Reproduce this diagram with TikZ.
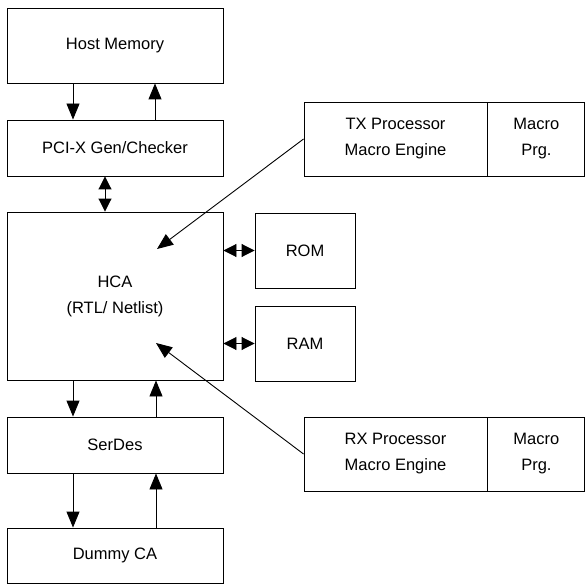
\documentclass[tikz,border=0pt]{standalone}
\usepackage{fontspec}
\setmainfont{Liberation Sans}
\usepackage{tikz}
\usetikzlibrary{arrows.meta}
\usetikzlibrary{positioning, calc}

\tikzset{
  blk/.style={draw, line width=0.9pt, rectangle, inner sep=0pt, align=center,
    font=\fontsize{16.5}{26}\selectfont},
  flow/.style={line width=0.9pt, -{Triangle[length=16pt,width=13pt]}},
  both/.style={line width=0.9pt, {Triangle[length=13pt,width=13pt]}-{Triangle[length=13pt,width=13pt]}}
}

\begin{document}
\begin{tikzpicture}[x=1pt,y=-1pt]
            \useasboundingbox (0,0) rectangle (585,585);
            % host side
            \node [blk, minimum width=216, minimum height=75] (host) at (115,45.5) {Host Memory};
            \node [blk, minimum width=216, minimum height=56] (pcix) at (115,148) {PCI-X Gen/Checker};
            \node [blk, minimum width=216, minimum height=168] (hca) at (115,296) {HCA\\(RTL/ Netlist)};
            \node [blk, minimum width=216, minimum height=56] (serdes) at (115,445) {SerDes};
            \node [blk, minimum width=216, minimum height=55] (dummy) at (115,555.5) {Dummy CA};
            % memories
            \node [blk, minimum width=100, minimum height=75] (rom) at (305,250.5) {ROM};
            \node [blk, minimum width=100, minimum height=75] (ram) at (305,343.5) {RAM};
            % macro engines
            \node [blk, minimum width=183, minimum height=74] (txeng) at (395.5,139) {TX Processor\\Macro Engine};
            \node [blk, minimum width=97, minimum height=74, anchor=west] (txprg) at (txeng.east) {Macro\\Prg.};
            \node [blk, minimum width=183, minimum height=74] (rxeng) at (395.5,454) {RX Processor\\Macro Engine};
            \node [blk, minimum width=97, minimum height=74, anchor=west] (rxprg) at (rxeng.east) {Macro\\Prg.};
            \coordinate (txtip) at (157,249);
            \coordinate (rxtip) at (156,343);
            % connectors
            \draw [flow] ([xshift=-42]host.south) -- ([xshift=-42]pcix.north);
            \draw [flow] ([xshift=40]pcix.north) -- ([xshift=40]host.south);
            \draw [both] ([xshift=-10]pcix.south) -- ([xshift=-10]hca.north);
            \draw [both] (hca.east |- rom.west) -- (rom.west);
            \draw [both] (hca.east |- ram.west) -- (ram.west);
            \draw [flow] ([xshift=-42]hca.south) -- ([xshift=-42]serdes.north);
            \draw [flow] ([xshift=41]serdes.north) -- ([xshift=41]hca.south);
            \draw [flow] ([xshift=-42]serdes.south) -- ([xshift=-42]dummy.north);
            \draw [flow] ([xshift=41]dummy.north) -- ([xshift=41]serdes.south);
            \draw [flow] (txeng.west) -- (txtip);
            \draw [flow] (rxeng.west) -- (rxtip);
        \end{tikzpicture}
\end{document}
